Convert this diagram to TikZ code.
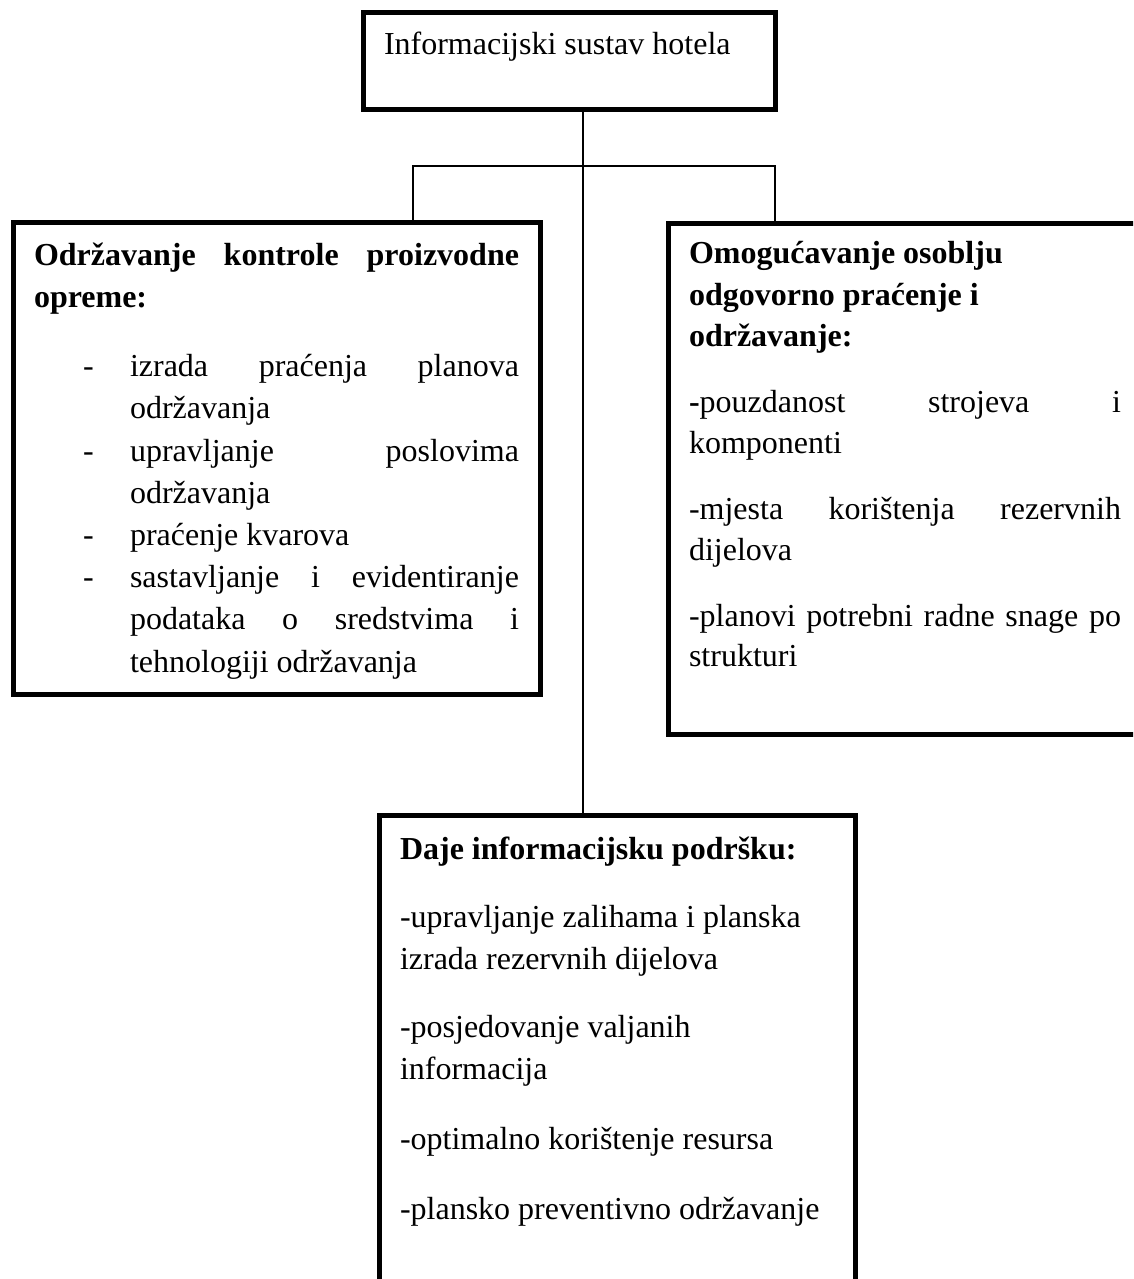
\documentclass[tikz,border=0pt]{standalone}
\usepackage{fontspec}
\setmainfont{Liberation Serif}
\begin{document}
\begin{tikzpicture}[x=1pt,y=-1pt,
  box/.style={draw, line width=4.5pt, inner sep=0pt, outer sep=0pt},
  conn/.style={line width=1.6pt},
  txt/.style={anchor=base west, inner sep=0pt, outer sep=0pt, font=\fontsize{32}{42}\selectfont},
  btxt/.style={txt, font=\fontsize{32}{42}\selectfont\bfseries}]
\useasboundingbox (0,0) rectangle (1133,1279);
\clip (0,0) rectangle (1133,1279);
\fill[white] (0,0) rectangle (1133,1279);

% boxes
\node[box, minimum width=412pt, minimum height=97pt] (top) at (569.5,61) {};
\node[box, minimum width=527pt, minimum height=472pt] (left) at (277,458.5) {};
\node[box, minimum width=476pt, minimum height=511pt] (right) at (906.5,479) {};
\node[box, minimum width=476pt, minimum height=480pt] (bot) at (617.5,1055.5) {};

% connectors
\coordinate (j) at (583,166);
\coordinate (jl) at (413,166);
\coordinate (jr) at (775,166);
\draw[conn] (top.south -| j) -- (bot.north -| j);
\draw[conn] (left.north -| jl) -- (jl) -- (jr) -- (right.north -| jr);

% top text
\node[txt] (t0) at (384,55) {Informacijski sustav hotela};

% left box
\node[btxt] (l1) at (34,265) {\makebox[485pt][s]{Održavanje kontrole proizvodne}};
\node[btxt] (l2) at (34,307) {opreme:};
\node[txt] (d1) at (83,376.7) {-};
\node[txt] (l3) at (130,376.7) {\makebox[389pt][s]{izrada praćenja planova}};
\node[txt] (l4) at (130,418.9) {održavanja};
\node[txt] (d2) at (83,461.1) {-};
\node[txt] (l5) at (130,461.1) {\makebox[389pt][s]{upravljanje poslovima}};
\node[txt] (l6) at (130,503.3) {održavanja};
\node[txt] (d3) at (83,545.5) {-};
\node[txt] (l7) at (130,545.5) {praćenje kvarova};
\node[txt] (d4) at (83,587.7) {-};
\node[txt] (l8) at (130,587.7) {\makebox[389pt][s]{sastavljanje i evidentiranje}};
\node[txt] (l9) at (130,629.9) {\makebox[389pt][s]{podataka o sredstvima i}};
\node[txt] (l10) at (130,672.1) {tehnologiji održavanja};

% right box
\node[btxt] (r1) at (689,263.5) {Omogućavanje osoblju};
\node[btxt] (r2) at (689,305) {odgovorno praćenje i};
\node[btxt] (r3) at (689,346) {održavanje:};
\node[txt] (r4) at (689,412.7) {\makebox[432pt][s]{{\bfseries -}pouzdanost strojeva i}};
\node[txt] (r5) at (689,453) {komponenti};
\node[txt] (r6) at (689,519) {\makebox[432pt][s]{-mjesta korištenja rezervnih}};
\node[txt] (r7) at (689,560.7) {dijelova};
\node[txt] (r8) at (689,626) {\makebox[432pt][s]{-planovi potrebni radne snage po}};
\node[txt] (r9) at (689,666.7) {strukturi};

% bottom box
\node[btxt] (b1) at (400,859) {Daje informacijsku podršku:};
\node[txt] (b2) at (400,927.3) {-upravljanje zalihama i planska};
\node[txt] (b3) at (400,969.3) {izrada rezervnih dijelova};
\node[txt] (b4) at (400,1037.7) {-posjedovanje valjanih};
\node[txt] (b5) at (400,1079.3) {informacija};
\node[txt] (b6) at (400,1149.3) {-optimalno korištenje resursa};
\node[txt] (b7) at (400,1219) {-plansko preventivno održavanje};
\end{tikzpicture}
\end{document}
